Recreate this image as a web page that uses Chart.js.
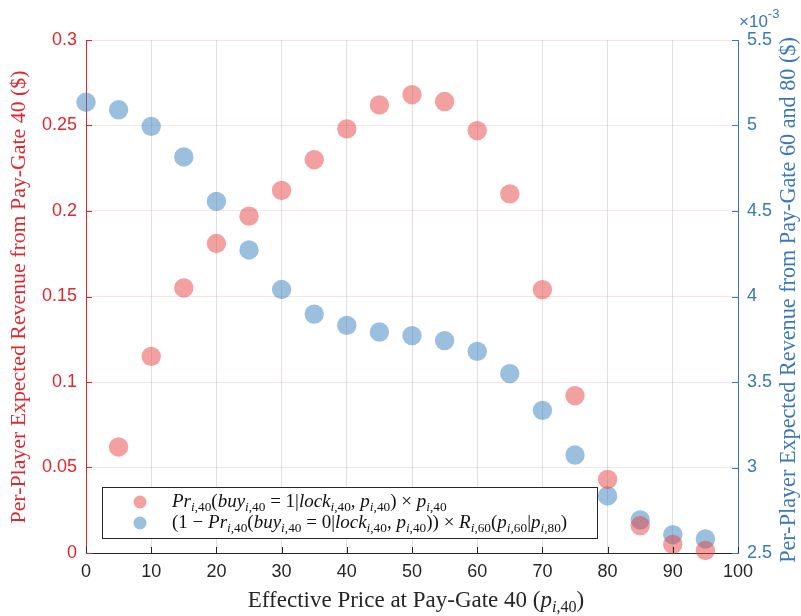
<!DOCTYPE html>
<html>
<head>
<meta charset="utf-8">
<script src="https://cdn.jsdelivr.net/npm/chart.js@4/dist/chart.umd.min.js"></script>
<style>
  html, body { margin: 0; padding: 0; background: #fff; }
  #wrap { width: 801px; height: 616px; position: relative; }
</style>
</head>
<body>
<div id="wrap"><canvas id="chart" width="801" height="616"></canvas></div>
<script>
// precios efectivos (eje x)
const priceRed = [5, 10, 15, 20, 25, 30, 35, 40, 45, 50, 55, 60, 65, 70, 75, 80, 85, 90, 95];
const priceBlue = [0, 5, 10, 15, 20, 25, 30, 35, 40, 45, 50, 55, 60, 65, 70, 75, 80, 85, 90, 95];

// ingreso esperado en pay-gate 40 ($)
const revenueGate40 = [0.062, 0.115, 0.155, 0.181, 0.197, 0.212, 0.230, 0.248, 0.262, 0.268,
    0.264, 0.247, 0.210, 0.154, 0.092, 0.043, 0.016, 0.005, 0.0015];

// ingreso esperado en pay-gate 60 y 80 (x 10^-3 $)
const revenueGate6080 = [5.136, 5.092, 4.995, 4.816, 4.556, 4.272, 4.041, 3.897, 3.831, 3.792,
    3.771, 3.742, 3.679, 3.549, 3.334, 3.073, 2.834, 2.694, 2.607, 2.582];

const xTicks = [0, 10, 20, 30, 40, 50, 60, 70, 80, 90, 100];
const leftTicks = [0, 0.05, 0.1, 0.15, 0.2, 0.25, 0.3];
const rightTicks = [2.5, 3, 3.5, 4, 4.5, 5, 5.5];

const RED = '#e3262d';
const BLUE = '#3a78b6';
const RED_PT = 'rgba(229, 65, 65, 0.5)';
const BLUE_PT = 'rgba(55, 127, 191, 0.5)';
const SERIF = '"Liberation Serif", "Times New Roman", serif';
const SANS = '"Liberation Sans", Arial, sans-serif';

// Partir texto con subindices estilo LaTeX: letras en cursiva dentro de math
function tokenize(str, math) {
    const out = [];
    let i = 0;
    while (i < str.length) {
        if (math && str[i] === '_' && str[i + 1] === '{') {
            const end = str.indexOf('}', i);
            for (const ch of str.slice(i + 2, end)) {
                out.push({ ch, it: /[a-zA-Z]/.test(ch), sub: true });
            }
            i = end + 1;
        } else {
            out.push({ ch: str[i], it: math && /[a-zA-Z]/.test(str[i]), sub: false });
            i++;
        }
    }
    // agrupar en tramos con el mismo estilo
    const runs = [];
    out.forEach(t => {
        const last = runs[runs.length - 1];
        if (last && last.it === t.it && last.sub === t.sub) last.text += t.ch;
        else runs.push({ text: t.ch, it: t.it, sub: t.sub });
    });
    return runs;
}

function buildRuns(segments) {
    let runs = [];
    segments.forEach(s => { runs = runs.concat(tokenize(s[0], s[1])); });
    return runs;
}

function runFont(r, size) {
    const sz = r.sub ? size * 0.7 : size;
    return (r.it ? 'italic ' : '') + sz + 'px ' + SERIF;
}

function measureRuns(ctx, runs, size) {
    let w = 0;
    runs.forEach(r => { ctx.font = runFont(r, size); w += ctx.measureText(r.text).width; });
    return w;
}

// tamaño de fuente para que el texto ocupe el ancho dado
function fitSize(ctx, runs, target) {
    return 20 * target / measureRuns(ctx, runs, 20);
}

function drawRuns(ctx, runs, x, y, size, align) {
    let cx = align === 'center' ? x - measureRuns(ctx, runs, size) / 2 : x;
    ctx.textBaseline = 'alphabetic';
    ctx.textAlign = 'left';
    runs.forEach(r => {
        ctx.font = runFont(r, size);
        ctx.fillText(r.text, cx, r.sub ? y + size * 0.22 : y);
        cx += ctx.measureText(r.text).width;
    });
}

const xTitle = buildRuns([['Effective Price at Pay-Gate 40 (', false], ['p_{i,40}', true], [')', false]]);
const leftTitle = buildRuns([['Per-Player Expected Revenue from Pay-Gate 40 ($)', false]]);
const rightTitle = buildRuns([['Per-Player Expected Revenue from Pay-Gate 60 and 80 ($)', false]]);
const legendRed = buildRuns([['Pr_{i,40}(buy_{i,40} = 1|lock_{i,40}, p_{i,40}) \u00d7 p_{i,40}', true]]);
const legendBlue = buildRuns([['(1 \u2212 Pr_{i,40}(buy_{i,40} = 0|lock_{i,40}, p_{i,40})) \u00d7 R_{i,60}(p_{i,60}|p_{i,80})', true]]);

// Plugin para titulos, marcas internas, leyenda y exponente
const decoraciones = {
    id: 'decoraciones',
    afterDatasetsDraw(chart) {
        const ctx = chart.ctx;
        const area = chart.chartArea;
        const sx = chart.scales.x, sy = chart.scales.y, sy2 = chart.scales.y2;
        ctx.save();

        // marcas hacia adentro
        ctx.lineWidth = 1;
        ctx.strokeStyle = '#262626';
        xTicks.forEach(v => {
            const px = Math.round(sx.getPixelForValue(v)) + 0.5;
            ctx.beginPath(); ctx.moveTo(px, area.bottom); ctx.lineTo(px, area.bottom - 6); ctx.stroke();
        });
        ctx.strokeStyle = RED;
        leftTicks.forEach(v => {
            const py = Math.round(sy.getPixelForValue(v)) + 0.5;
            ctx.beginPath(); ctx.moveTo(area.left, py); ctx.lineTo(area.left + 6, py); ctx.stroke();
        });
        ctx.strokeStyle = BLUE;
        rightTicks.forEach(v => {
            const py = Math.round(sy2.getPixelForValue(v)) + 0.5;
            ctx.beginPath(); ctx.moveTo(area.right, py); ctx.lineTo(area.right - 6, py); ctx.stroke();
        });

        // leyenda
        const lx = 102, ly = 487, lw = 495, lh = 51;
        ctx.fillStyle = '#fff';
        ctx.fillRect(lx, ly, lw, lh);
        ctx.strokeStyle = '#262626';
        ctx.strokeRect(lx + 0.5, ly + 0.5, lw, lh);
        ctx.fillStyle = RED_PT;
        ctx.beginPath(); ctx.arc(140, 502, 6.5, 0, Math.PI * 2); ctx.fill();
        ctx.fillStyle = BLUE_PT;
        ctx.beginPath(); ctx.arc(140, 523, 6.5, 0, Math.PI * 2); ctx.fill();
        ctx.fillStyle = '#111';
        const legSize = Math.min(19, fitSize(ctx, legendBlue, 418));
        drawRuns(ctx, legendRed, 172, 507, legSize, 'left');
        drawRuns(ctx, legendBlue, 172, 528, legSize, 'left');

        // titulo eje x
        ctx.fillStyle = '#262626';
        drawRuns(ctx, xTitle, 416, 607, Math.min(23, fitSize(ctx, xTitle, 362)), 'center');

        // titulo eje izquierdo
        ctx.fillStyle = RED;
        ctx.save();
        ctx.translate(25, 297);
        ctx.rotate(-Math.PI / 2);
        drawRuns(ctx, leftTitle, 0, 0, fitSize(ctx, leftTitle, 453), 'center');
        ctx.restore();

        // titulo eje derecho
        ctx.fillStyle = BLUE;
        ctx.save();
        ctx.translate(795, 300);
        ctx.rotate(-Math.PI / 2);
        drawRuns(ctx, rightTitle, 0, 0, fitSize(ctx, rightTitle, 526), 'center');
        ctx.restore();

        // multiplicador x10^-3
        ctx.fillStyle = BLUE;
        ctx.textAlign = 'left';
        ctx.font = '17px ' + SANS;
        ctx.fillText('\u00d710', 739, 27);
        const w = ctx.measureText('\u00d710').width;
        ctx.font = '13px ' + SANS;
        ctx.fillText('-3', 739 + w, 18);

        ctx.restore();
    }
};

const ctx = document.getElementById('chart').getContext('2d');
const chart = new Chart(ctx, {
    type: 'scatter',
    data: {
        datasets: [{
            label: 'gate40',
            data: priceRed.map((p, i) => ({ x: p, y: revenueGate40[i] })),
            yAxisID: 'y',
            backgroundColor: RED_PT,
            borderWidth: 0,
            pointRadius: 9.7,
            pointHoverRadius: 9.7,
            clip: false
        }, {
            label: 'gate6080',
            data: priceBlue.map((p, i) => ({ x: p, y: revenueGate6080[i] })),
            yAxisID: 'y2',
            backgroundColor: BLUE_PT,
            borderWidth: 0,
            pointRadius: 9.7,
            pointHoverRadius: 9.7,
            clip: false
        }]
    },
    options: {
        responsive: false,
        animation: false,
        events: [],
        layout: { padding: { top: 40, left: 0, right: 0, bottom: 0 } },
        plugins: { legend: { display: false }, tooltip: { enabled: false } },
        scales: {
            x: {
                type: 'linear', min: 0, max: 100,
                afterBuildTicks: s => { s.ticks = xTicks.map(v => ({ value: v })); },
                afterFit: s => { s.height = 63; },
                grid: { color: 'rgba(0,0,0,0.12)', drawTicks: false },
                border: { color: '#262626', width: 1 },
                ticks: { color: '#262626', padding: 8, font: { family: SANS, size: 18 } }
            },
            y: {
                type: 'linear', position: 'left', min: 0, max: 0.3,
                afterBuildTicks: s => { s.ticks = leftTicks.map(v => ({ value: v })); },
                afterFit: s => { s.width = 86; },
                grid: { color: 'rgba(230,40,40,0.13)', drawTicks: false },
                border: { color: RED, width: 1 },
                ticks: { color: RED, padding: 9, font: { family: SANS, size: 18 },
                    callback: v => String(+v.toFixed(2)) }
            },
            y2: {
                type: 'linear', position: 'right', min: 2.5, max: 5.5,
                afterBuildTicks: s => { s.ticks = rightTicks.map(v => ({ value: v })); },
                afterFit: s => { s.width = 63; },
                grid: { display: false, drawTicks: false },
                border: { color: BLUE, width: 1 },
                ticks: { color: BLUE, padding: 9, font: { family: SANS, size: 18 },
                    callback: v => String(+v.toFixed(1)) }
            }
        }
    },
    plugins: [decoraciones]
});
</script>
</body>
</html>
